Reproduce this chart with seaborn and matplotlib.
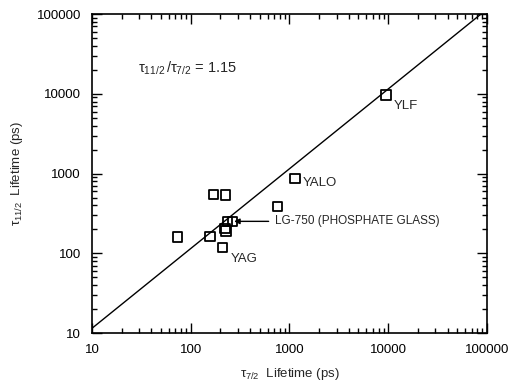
import numpy as np
import pandas as pd
import seaborn as sns
import matplotlib.pyplot as plt
from matplotlib import ticker

# lifetimes (ps)
tau72 = [73, 169, 224, 157, 210, 222, 228, 236, 266, 752, 1137, 9490]
tau112 = [161, 546, 540, 163, 118, 205, 190, 252, 252, 389, 871, 9710]
labels = ["", "", "", "", "YAG", "", "", "", "", "", "YALO", "YLF"]

# fit line tau11/2 = 1.15 * tau7/2
line_x = [10, 86957]
line_y = [11.5, 100000]

ticks = [10, 100, 1000, 10000, 100000]

df = pd.DataFrame({"tau72": tau72, "tau112": tau112, "label": labels})

sns.set_style("ticks")
plt.rcParams['font.family'] = ['Liberation Sans', 'DejaVu Sans']
plt.rcParams['mathtext.fontset'] = 'custom'
plt.rcParams['mathtext.rm'] = 'Liberation Sans'
plt.rcParams['mathtext.it'] = 'Liberation Sans'

fig = plt.figure(figsize=(5.18, 3.91), dpi=100)
ax = fig.add_axes([0.1776, 0.148, 0.7624, 0.816])

sns.lineplot(x=line_x, y=line_y, ax=ax, color="black", linewidth=1.0)
sns.scatterplot(data=df, x="tau72", y="tau112", ax=ax, marker="s", s=45,
                facecolor="none", edgecolor="black", linewidth=1.3, zorder=3)

ax.set_xscale("log")
ax.set_yscale("log")
ax.set_xlim(10, 100000)
ax.set_ylim(10, 100000)
ax.set_xticks(ticks)
ax.set_yticks(ticks)
fmt = ticker.FuncFormatter(lambda v, _: f"{int(round(v))}")
ax.xaxis.set_major_formatter(fmt)
ax.yaxis.set_major_formatter(fmt)
ax.xaxis.set_minor_formatter(ticker.NullFormatter())
ax.yaxis.set_minor_formatter(ticker.NullFormatter())

ax.tick_params(which="both", direction="in", top=True, right=True, width=1.0,
               labelsize=9.5, colors="black")
ax.tick_params(which="major", length=7, pad=8)
ax.tick_params(which="minor", length=3.5)
for sp in ax.spines.values():
    sp.set_linewidth(1.2)
    sp.set_color("black")

ax.set_xlabel(r"$\tau_{7/2}$  Lifetime (ps)", fontsize=9.5, labelpad=7)
ax.set_ylabel(r"$\tau_{11/2}$  Lifetime (ps)", fontsize=9.5, labelpad=8)

ax.text(29, 21000, r"$\tau_{11/2}\,/\tau_{7/2}$ = 1.15", fontsize=10.5, va="center")

for _, r in df.iterrows():
    if r["label"]:
        ax.annotate(r["label"], (r["tau72"], r["tau112"]), xytext=(8, -5),
                    textcoords="offset pixels", fontsize=9.5,
                    va="top" if r["label"] != "YALO" else "center")

ax.annotate("LG-750 (PHOSPHATE GLASS)", xy=(266, 252), xytext=(42, 0),
            textcoords="offset pixels", fontsize=8.5, va="center",
            arrowprops=dict(arrowstyle="-|>", color="black", lw=1.0,
                            shrinkA=2, shrinkB=1, mutation_scale=8))

fig.savefig("out.png", dpi=100)
